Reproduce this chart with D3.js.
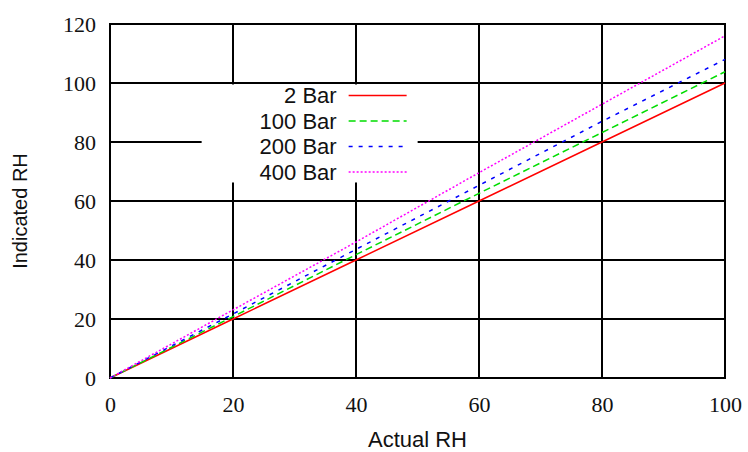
<!DOCTYPE html>
<html>
<head>
<meta charset="utf-8">
<script src="https://cdn.jsdelivr.net/npm/d3@7"></script>
<style>
  body { margin: 0; background: #fff; }
  svg { display: block; }
  .tick text { font-family: "Liberation Serif", "DejaVu Serif", serif; font-size: 22px; fill: #111; }
  .label { font-family: "Liberation Sans", Arial, sans-serif; font-size: 22px; fill: #111; }
</style>
</head>
<body>
<svg class="rh-chart" width="748" height="452"></svg>
<script>
// actual RH sample points
const actualRH = [0, 20, 40, 60, 80, 100];

// indicated RH, one array per pressure
const bar2 = [0, 20, 40, 60, 80, 100];
const bar100 = [0, 20.8, 41.8, 62.6, 83.2, 103.8];
const bar200 = [0, 21.7, 43.6, 65.3, 87, 108];
const bar400 = [0, 23.1, 46.1, 69.6, 92.8, 116];

const seriesNames = ["2 Bar", "100 Bar", "200 Bar", "400 Bar"];
const xTicks = [0, 20, 40, 60, 80, 100];
const yTicks = [0, 20, 40, 60, 80, 100, 120];

function drawChart() {
    const svg = d3.select("svg.rh-chart");
    const margin = {top: 24, right: 23, bottom: 74, left: 110};
    const width = +svg.attr("width") - margin.left - margin.right;
    const height = +svg.attr("height") - margin.top - margin.bottom;
    const g = svg.append("g").attr("transform", `translate(${margin.left}, ${margin.top})`);

    const x = d3.scaleLinear().domain([0, 100]).range([0, width]);
    const y = d3.scaleLinear().domain([0, 120]).range([height, 0]);

    const styles = [
        {color: "#ff0000", dash: null},
        {color: "#00dd00", dash: "7,4"},
        {color: "#0000ff", dash: "4,6"},
        {color: "#ff00ff", dash: "2,2"}
    ];
    const series = [bar2, bar100, bar200, bar400].map((vals, i) => ({
        name: seriesNames[i],
        style: styles[i],
        points: actualRH.map((a, j) => ({a: a, v: vals[j]}))
    }));

    // grid
    g.append("g")
        .selectAll("line.vgrid")
        .data(xTicks.slice(1, -1))
        .join("line")
        .attr("x1", d => x(d)).attr("x2", d => x(d))
        .attr("y1", 0).attr("y2", height)
        .attr("stroke", "#000").attr("stroke-width", 2);
    g.append("g")
        .selectAll("line.hgrid")
        .data(yTicks.slice(1, -1))
        .join("line")
        .attr("x1", 0).attr("x2", width)
        .attr("y1", d => y(d)).attr("y2", d => y(d))
        .attr("stroke", "#000").attr("stroke-width", 2);

    // axes (labels only, frame drawn below)
    g.append("g")
        .attr("class", "axis axis--x")
        .attr("transform", `translate(0, ${height})`)
        .call(d3.axisBottom(x).tickValues(xTicks).tickSize(0).tickPadding(18))
        .call(a => a.select(".domain").remove());
    g.append("g")
        .attr("class", "axis axis--y")
        .call(d3.axisLeft(y).tickValues(yTicks).tickSize(0).tickPadding(14))
        .call(a => a.select(".domain").remove());

    // legend box covers the grid
    const legend = g.append("g").attr("transform", `translate(${x(14.9)}, ${y(99.5)})`);
    legend.append("rect")
        .attr("width", 216).attr("height", 98)
        .attr("fill", "#fff");
    series.forEach((s, i) => {
        const row = legend.append("g").attr("transform", `translate(0, ${11 + i * 25.5})`);
        row.append("text")
            .attr("class", "label")
            .attr("x", 135).attr("dy", "0.35em")
            .attr("text-anchor", "end")
            .text(s.name);
        row.append("line")
            .attr("x1", 147).attr("x2", 205)
            .attr("stroke", s.style.color)
            .attr("stroke-width", 1.5)
            .attr("stroke-dasharray", s.style.dash);
    });

    // frame
    g.append("rect")
        .attr("width", width).attr("height", height)
        .attr("fill", "none").attr("stroke", "#000").attr("stroke-width", 2);

    const line = d3.line()
        .x(d => x(d.a))
        .y(d => y(d.v));

    g.selectAll("path.series")
        .data(series)
        .join("path")
        .attr("class", "series")
        .attr("fill", "none")
        .attr("stroke", d => d.style.color)
        .attr("stroke-width", 1.5)
        .attr("stroke-dasharray", d => d.style.dash)
        .attr("d", d => line(d.points));

    // axis titles
    svg.append("text")
        .attr("class", "label")
        .attr("x", margin.left + width / 2).attr("y", 447)
        .attr("text-anchor", "middle")
        .text("Actual RH");
    svg.append("text")
        .attr("class", "label")
        .style("font-size", "20px")
        .attr("transform", `translate(27, ${margin.top + height / 2 + 10}) rotate(-90)`)
        .attr("text-anchor", "middle")
        .text("Indicated RH");
}

drawChart();
</script>
</body>
</html>
